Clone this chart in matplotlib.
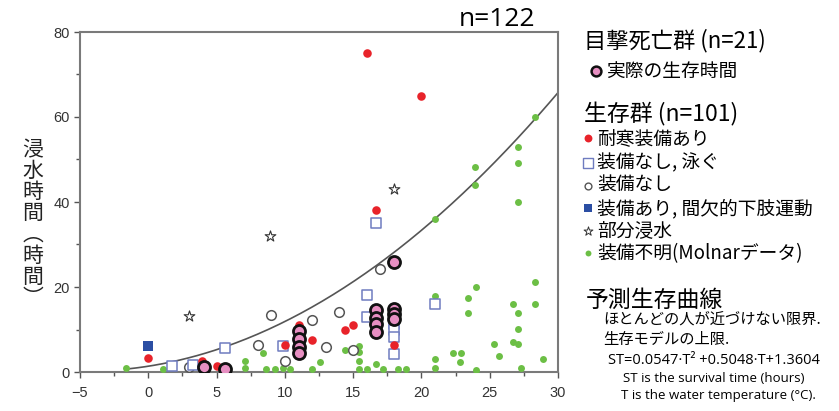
import numpy as np
import matplotlib
matplotlib.use("Agg")
import matplotlib.pyplot as plt

plt.rcParams['font.family'] = ['Noto Sans CJK JP', 'DejaVu Sans']

# data: water temperature (C) vs immersion time (h)
pink_x = [4.1, 5.6, 11.0, 11.0, 11.0, 11.0, 16.7, 16.7, 16.7, 16.7, 18.0, 18.0, 18.0, 18.0]
pink_y = [1.2, 0.6, 9.6, 7.8, 6.0, 4.4, 14.6, 12.8, 11.2, 9.5, 14.8, 13.6, 12.4, 26.0]

red_x = [16.0, 20.0, 16.7, 0.0, 3.9, 5.0, 11.0, 12.0, 14.4, 15.0, 10.0, 18.0]
red_y = [75.0, 65.0, 38.0, 3.3, 2.5, 1.5, 11.0, 7.5, 10.0, 11.0, 6.3, 6.3]

sq_x = [1.7, 3.3, 5.6, 9.9, 16.7, 16.0, 16.0, 18.0, 18.0, 18.0, 18.0, 21.0]
sq_y = [1.4, 1.6, 5.7, 6.2, 35.0, 18.2, 12.9, 11.3, 10.0, 8.2, 4.2, 16.1]

circ_x = [3.0, 8.0, 9.0, 10.0, 12.0, 13.0, 14.0, 15.0, 17.0]
circ_y = [1.2, 6.3, 13.3, 2.7, 12.3, 6.0, 14.2, 5.2, 24.2]

blue_x = [0.0]
blue_y = [6.2]

star_x = [3.0, 8.9, 18.0]
star_y = [13.2, 32.1, 43.0]

green_x = [-1.6, 1.1, 7.1, 7.1, 8.4, 8.6, 9.3, 9.9, 10.4, 12.0, 12.6, 14.4, 15.4, 15.4,
           15.4, 15.4, 16.0, 16.7, 17.2, 18.3, 18.9, 21.0, 21.0, 21.0, 21.0, 22.3, 22.9,
           22.8, 23.4, 23.4, 24.0, 24.0, 25.3, 25.7, 26.7, 26.7, 27.1, 27.1, 27.1, 27.1,
           27.3, 28.3, 28.3, 28.9, 28.3, 27.1, 27.1, 23.9, 23.9]
green_y = [1.0, 0.6, 2.7, 1.0, 4.4, 0.6, 0.6, 0.9, 0.6, 0.6, 2.3, 5.2, 6.2, 4.6,
           2.6, 0.8, 0.6, 1.9, 0.6, 0.6, 0.6, 36.0, 17.9, 3.0, 0.9, 4.4, 4.4,
           2.3, 17.5, 13.8, 20.1, 0.5, 6.7, 3.8, 15.9, 7.0, 40.1, 13.8, 10.1, 6.6,
           1.0, 21.2, 15.9, 3.0, 60.1, 53.0, 49.1, 48.2, 44.0]

coef = [0.0547, 0.5048, 1.3604]
t_start, t_end = -1.5, 30

fig = plt.figure(figsize=(8.39, 4.11), dpi=100)
ax = fig.add_axes([80/839, 1-372/411, 478/839, 340/411])

t = np.linspace(t_start, t_end, 200)
ax.plot(t, np.polyval(coef, t), color='#555555', lw=1.2, zorder=2)

ax.scatter(green_x, green_y, s=25, color='#6cbf45', zorder=3, lw=0)
ax.scatter(circ_x, circ_y, s=48, facecolor='white', edgecolor='#555555', lw=1.1, zorder=4)
ax.scatter(sq_x, sq_y, s=60, marker='s', facecolor='white', edgecolor='#6f7cc0', lw=1.1, zorder=4)
ax.scatter(blue_x, blue_y, s=50, marker='s', color='#2b4ea3', zorder=4, lw=0)
ax.scatter(star_x, star_y, s=65, marker='*', facecolor='white', edgecolor='#333333', lw=0.8, zorder=4)
ax.scatter(red_x, red_y, s=38, color='#e8232a', zorder=5, lw=0)
ax.scatter(pink_x, pink_y, s=75, facecolor='#e78fc2', edgecolor='#111111', lw=2, zorder=6)

ax.set_xlim(-5, 30)
ax.set_ylim(0, 80)
ax.set_xticks(range(-5, 31, 5))
ax.set_xticks(np.arange(-2.5, 30, 5), minor=True)
ax.set_yticks(range(0, 81, 20))
ax.set_yticks(range(10, 80, 20), minor=True)
for s in ax.spines.values():
    s.set_color('#7a7a7a')
    s.set_linewidth(1.5)
ax.tick_params(which='both', color='#555555', labelsize=10.5, labelcolor='#333333', length=4, width=1)
ax.tick_params(which='minor', length=3)
ax.tick_params(axis='x', pad=6)
for lab in ax.get_xticklabels() + ax.get_yticklabels():
    lab.set_family('Liberation Sans')

# vertical y label
fig.text(33/839, 1-224/411, "浸\n水\n時\n間\n︵\n時\n間\n︶", ha='center', va='center',
         fontsize=15, linespacing=0.95, color='#222222')

fig.text(497/839, 1-19/411, "n=122", ha='center', va='center', fontsize=19, family='Open Sans')

# legend / notes drawn in pixel coordinates
ov = fig.add_axes([0, 0, 1, 1])
ov.set_xlim(0, 839)
ov.set_ylim(411, 0)
ov.axis('off')

ov.text(584, 41, "目撃死亡群 (n=21)", va='center', fontsize=16)
ov.scatter([596], [71], s=50, facecolor='#e78fc2', edgecolor='#111111', lw=1.8)
ov.text(606, 71, "実際の生存時間", va='center', fontsize=13.5)

ov.text(584, 114, "生存群 (n=101)", va='center', fontsize=16.5)
rows_y = [138.3, 162.7, 185.7, 208.3, 230.7, 253.3]
labels = ["耐寒装備あり", "装備なし, 泳ぐ", "装備なし", "装備あり, 間欠的下肢運動", "部分浸水", "装備不明(Molnarデータ)"]
ov.scatter([588], [rows_y[0]], s=32, color='#e8232a', lw=0)
ov.scatter([588], [rows_y[1]], s=45, marker='s', facecolor='white', edgecolor='#6f7cc0', lw=1)
ov.scatter([588], [rows_y[2]], s=24, facecolor='white', edgecolor='#555555', lw=1)
ov.scatter([588], [rows_y[3]], s=40, marker='s', color='#2b4ea3', lw=0)
ov.scatter([588], [rows_y[4]], s=45, marker='*', facecolor='white', edgecolor='#333333', lw=0.7)
ov.scatter([588], [rows_y[5]], s=18, color='#6cbf45', lw=0)
for y, lab in zip(rows_y, labels):
    ov.text(597, y, lab, va='center', fontsize=13.5)

ov.text(586, 300, "予測生存曲線", va='center', fontsize=16.5)
ov.text(603, 319, "ほとんどの人が近づけない限界.", va='center', fontsize=11)
ov.text(603, 339, "生存モデルの上限.", va='center', fontsize=11)
ov.text(608, 360, "ST=0.0547·T² +0.5048·T+1.3604", va='center', fontsize=10.5, family='Open Sans')
ov.text(623, 378, "ST is the survival time (hours)", va='center', fontsize=9.5, family='Open Sans')
ov.text(621, 395, "T is the water temperature (°C).", va='center', fontsize=9.5, family='Open Sans')

fig.savefig("out.png", dpi=100)
